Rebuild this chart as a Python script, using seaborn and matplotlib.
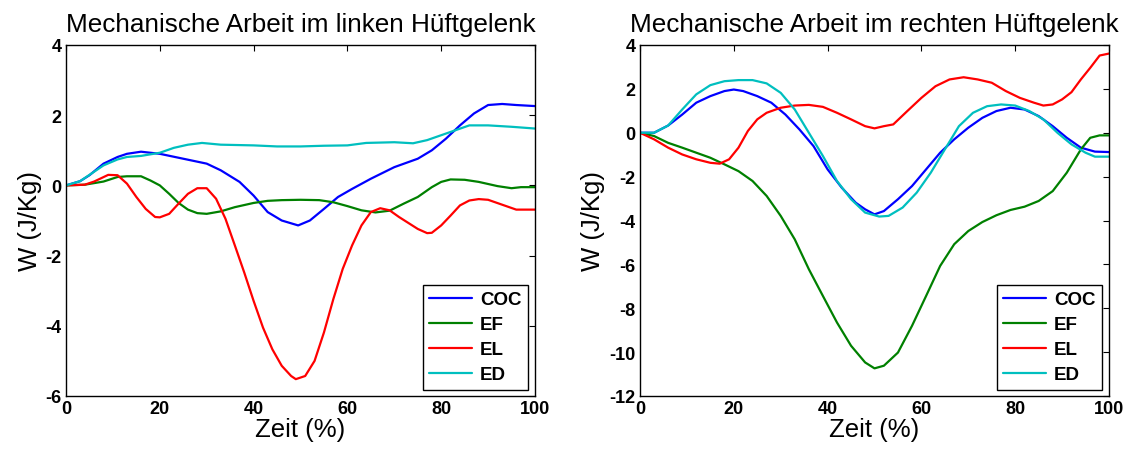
import matplotlib
matplotlib.use("Agg")
import matplotlib.pyplot as plt
import pandas as pd
import seaborn as sns

# ---- Linkes Hüftgelenk ----
left_coc_x = [0, 3, 5, 8, 11, 13, 16, 20, 25, 30, 33, 37, 40, 43, 46, 49.5, 52, 55, 58, 61, 65, 70, 75, 78, 81, 84, 87, 90, 93, 96, 100]
left_coc_y = [0, 0.12, 0.29, 0.62, 0.81, 0.9, 0.96, 0.9, 0.76, 0.62, 0.43, 0.1, -0.29, -0.76, -1.0, -1.14, -1.0, -0.67, -0.33, -0.1, 0.19, 0.52, 0.76, 1.0, 1.33, 1.71, 2.05, 2.29, 2.32, 2.29, 2.26]

left_ef_x = [0, 4, 8, 11, 13, 16, 18, 20, 22, 24, 26, 28, 30, 33, 36, 40, 43, 46, 50, 54, 57, 60, 63, 66, 69, 72, 75, 78, 80, 82, 85, 88, 92, 95, 97, 100]
left_ef_y = [0, 0.02, 0.11, 0.24, 0.26, 0.26, 0.14, 0, -0.24, -0.5, -0.69, -0.79, -0.81, -0.74, -0.62, -0.5, -0.44, -0.42, -0.41, -0.42, -0.48, -0.59, -0.71, -0.77, -0.72, -0.52, -0.33, -0.05, 0.1, 0.17, 0.16, 0.1, -0.02, -0.08, -0.05, -0.05]

left_el_x = [0, 4, 6, 9, 11, 13, 15, 17, 19, 20, 22, 24, 26, 28, 30, 32, 34, 36, 38, 40, 42, 44, 46, 48, 49, 51, 53, 55, 57, 59, 61, 63, 65, 67, 69, 71, 73, 75, 77, 78, 80, 82, 84, 86, 88, 90, 93, 96, 100]
left_el_y = [0, 0.02, 0.11, 0.3, 0.29, 0.05, -0.33, -0.67, -0.9, -0.91, -0.81, -0.52, -0.24, -0.08, -0.08, -0.38, -0.95, -1.71, -2.48, -3.29, -4.05, -4.67, -5.14, -5.43, -5.52, -5.43, -5.0, -4.19, -3.24, -2.38, -1.71, -1.14, -0.76, -0.65, -0.71, -0.9, -1.07, -1.24, -1.36, -1.35, -1.14, -0.86, -0.57, -0.43, -0.39, -0.41, -0.55, -0.69, -0.69]

left_ed_x = [0, 3, 5, 8, 11, 13, 16, 20, 23, 26, 29, 33, 40, 45, 50, 55, 60, 64, 70, 74, 77, 80, 83, 86, 90, 95, 100]
left_ed_y = [0, 0.12, 0.3, 0.57, 0.74, 0.81, 0.84, 0.93, 1.07, 1.16, 1.21, 1.16, 1.14, 1.11, 1.11, 1.13, 1.14, 1.21, 1.23, 1.2, 1.29, 1.43, 1.57, 1.71, 1.71, 1.67, 1.62]

# ---- Rechtes Hüftgelenk ----
right_coc_x = [0, 3, 6, 9, 12, 15, 18, 20, 22, 25, 28, 31, 34, 37, 40, 43, 46, 48, 50, 52, 55, 58, 61, 64, 67, 70, 73, 76, 79, 82, 85, 88, 91, 94, 97, 100]
right_coc_y = [0, 0.0, 0.33, 0.83, 1.37, 1.67, 1.9, 1.97, 1.9, 1.67, 1.37, 0.83, 0.15, -0.61, -1.67, -2.5, -3.19, -3.49, -3.72, -3.57, -3.03, -2.43, -1.67, -0.91, -0.3, 0.23, 0.68, 0.99, 1.14, 1.06, 0.76, 0.3, -0.23, -0.68, -0.86, -0.88]

right_ef_x = [0, 3, 6, 9, 12, 15, 18, 21, 24, 27, 30, 33, 36, 39, 42, 45, 48, 50, 52, 55, 58, 61, 64, 67, 70, 73, 76, 79, 82, 85, 88, 91, 94, 96, 98, 100]
right_ef_y = [0, -0.15, -0.46, -0.68, -0.91, -1.14, -1.44, -1.75, -2.2, -2.88, -3.79, -4.86, -6.22, -7.44, -8.65, -9.71, -10.47, -10.74, -10.62, -10.02, -8.8, -7.44, -6.07, -5.08, -4.48, -4.07, -3.76, -3.52, -3.37, -3.11, -2.66, -1.82, -0.76, -0.23, -0.12, -0.12]

right_el_x = [0, 3, 6, 9, 12, 15, 17, 19, 21, 23, 25, 27, 30, 33, 36, 39, 42, 45, 48, 50, 52, 54, 57, 60, 63, 66, 69, 72, 75, 78, 81, 84, 86, 88, 90, 92, 94, 96, 98, 100]
right_el_y = [0, -0.3, -0.68, -0.99, -1.21, -1.37, -1.41, -1.21, -0.68, 0.08, 0.61, 0.91, 1.14, 1.24, 1.27, 1.18, 0.91, 0.61, 0.3, 0.2, 0.3, 0.38, 0.99, 1.59, 2.12, 2.43, 2.53, 2.43, 2.28, 1.9, 1.59, 1.37, 1.24, 1.29, 1.52, 1.85, 2.43, 2.96, 3.52, 3.61]

right_ed_x = [0, 3, 6, 9, 12, 15, 18, 21, 24, 27, 30, 33, 36, 39, 42, 45, 48, 51, 53, 56, 59, 62, 65, 68, 71, 74, 77, 80, 83, 86, 89, 92, 95, 97, 100]
right_ed_y = [0, 0.0, 0.33, 1.06, 1.75, 2.17, 2.35, 2.4, 2.4, 2.25, 1.82, 1.06, 0.0, -1.06, -2.2, -3.03, -3.64, -3.82, -3.79, -3.41, -2.73, -1.82, -0.76, 0.3, 0.91, 1.21, 1.29, 1.24, 0.99, 0.61, 0.0, -0.53, -0.91, -1.09, -1.09]

series_names = ["COC", "EF", "EL", "ED"]
series_colors = ["#0000ff", "#008000", "#ff0000", "#00bfbf"]

titles = ["Mechanische Arbeit im linken Hüftgelenk", "Mechanische Arbeit im rechten Hüftgelenk"]
x_label = "Zeit (%)"
y_label = "W (J/Kg)"
x_ticks = [0, 20, 40, 60, 80, 100]
left_y_ticks = [-6, -4, -2, 0, 2, 4]
right_y_ticks = [-12, -10, -8, -6, -4, -2, 0, 2, 4]


def long_frame(pairs):
    frames = []
    for name, (xs, ys) in zip(series_names, pairs):
        frames.append(pd.DataFrame({"Zeit": xs, "W": ys, "Serie": name}))
    return pd.concat(frames, ignore_index=True)


left_df = long_frame([(left_coc_x, left_coc_y), (left_ef_x, left_ef_y),
                      (left_el_x, left_el_y), (left_ed_x, left_ed_y)])
right_df = long_frame([(right_coc_x, right_coc_y), (right_ef_x, right_ef_y),
                       (right_el_x, right_el_y), (right_ed_x, right_ed_y)])

sns.set_style("white")
plt.rcParams["font.family"] = ["Liberation Sans", "DejaVu Sans"]
plt.rcParams.update({
    "text.color": "black", "axes.labelcolor": "black",
    "xtick.color": "black", "ytick.color": "black",
    "axes.unicode_minus": False,
    "xtick.direction": "in", "ytick.direction": "in",
    "xtick.top": True, "ytick.right": True,
    "xtick.major.size": 4, "ytick.major.size": 4,
    "xtick.major.width": 0.8, "ytick.major.width": 0.8,
    "axes.edgecolor": "black", "axes.linewidth": 1.0,
})

W, H = 1138, 452
fig = plt.figure(figsize=(W / 100, H / 100), dpi=100)
ax_l = fig.add_axes([66 / W, 55 / H, 469 / W, 351 / H])
ax_r = fig.add_axes([640 / W, 55 / H, 469 / W, 351 / H])

palette = dict(zip(series_names, series_colors))

for ax, df, title, yticks, ylim in [
    (ax_l, left_df, titles[0], left_y_ticks, (-6, 4)),
    (ax_r, right_df, titles[1], right_y_ticks, (-12, 4)),
]:
    sns.lineplot(data=df, x="Zeit", y="W", hue="Serie", hue_order=series_names,
                 palette=palette, estimator=None, sort=False, linewidth=1.6, ax=ax)
    ax.set_xlim(0, 100)
    ax.set_ylim(*ylim)
    ax.set_xticks(x_ticks)
    ax.set_yticks(yticks)
    ax.tick_params(axis="both", labelsize=13, pad=3, colors="black")
    for lab in ax.get_xticklabels() + ax.get_yticklabels():
        lab.set_fontweight("bold")
    ax.set_title(title, fontsize=18.8, pad=10, color="black")
    ax.set_xlabel(x_label, fontsize=18.5, labelpad=0)
    ax.set_ylabel(y_label, fontsize=18.5, labelpad=3)
    for s in ax.spines.values():
        s.set_visible(True)
        s.set_color("black")
    handles, labels = ax.get_legend_handles_labels()
    leg = ax.legend(handles, labels, loc="lower right", bbox_to_anchor=(0.985, 0.017),
                    borderaxespad=0, fancybox=False, framealpha=1, edgecolor="black",
                    prop={"weight": "bold", "size": 13.5}, handlelength=2.3,
                    handletextpad=0.4, labelspacing=0.42, borderpad=0.35)
    leg.get_frame().set_linewidth(1.0)

fig.savefig("out.png", dpi=100)
